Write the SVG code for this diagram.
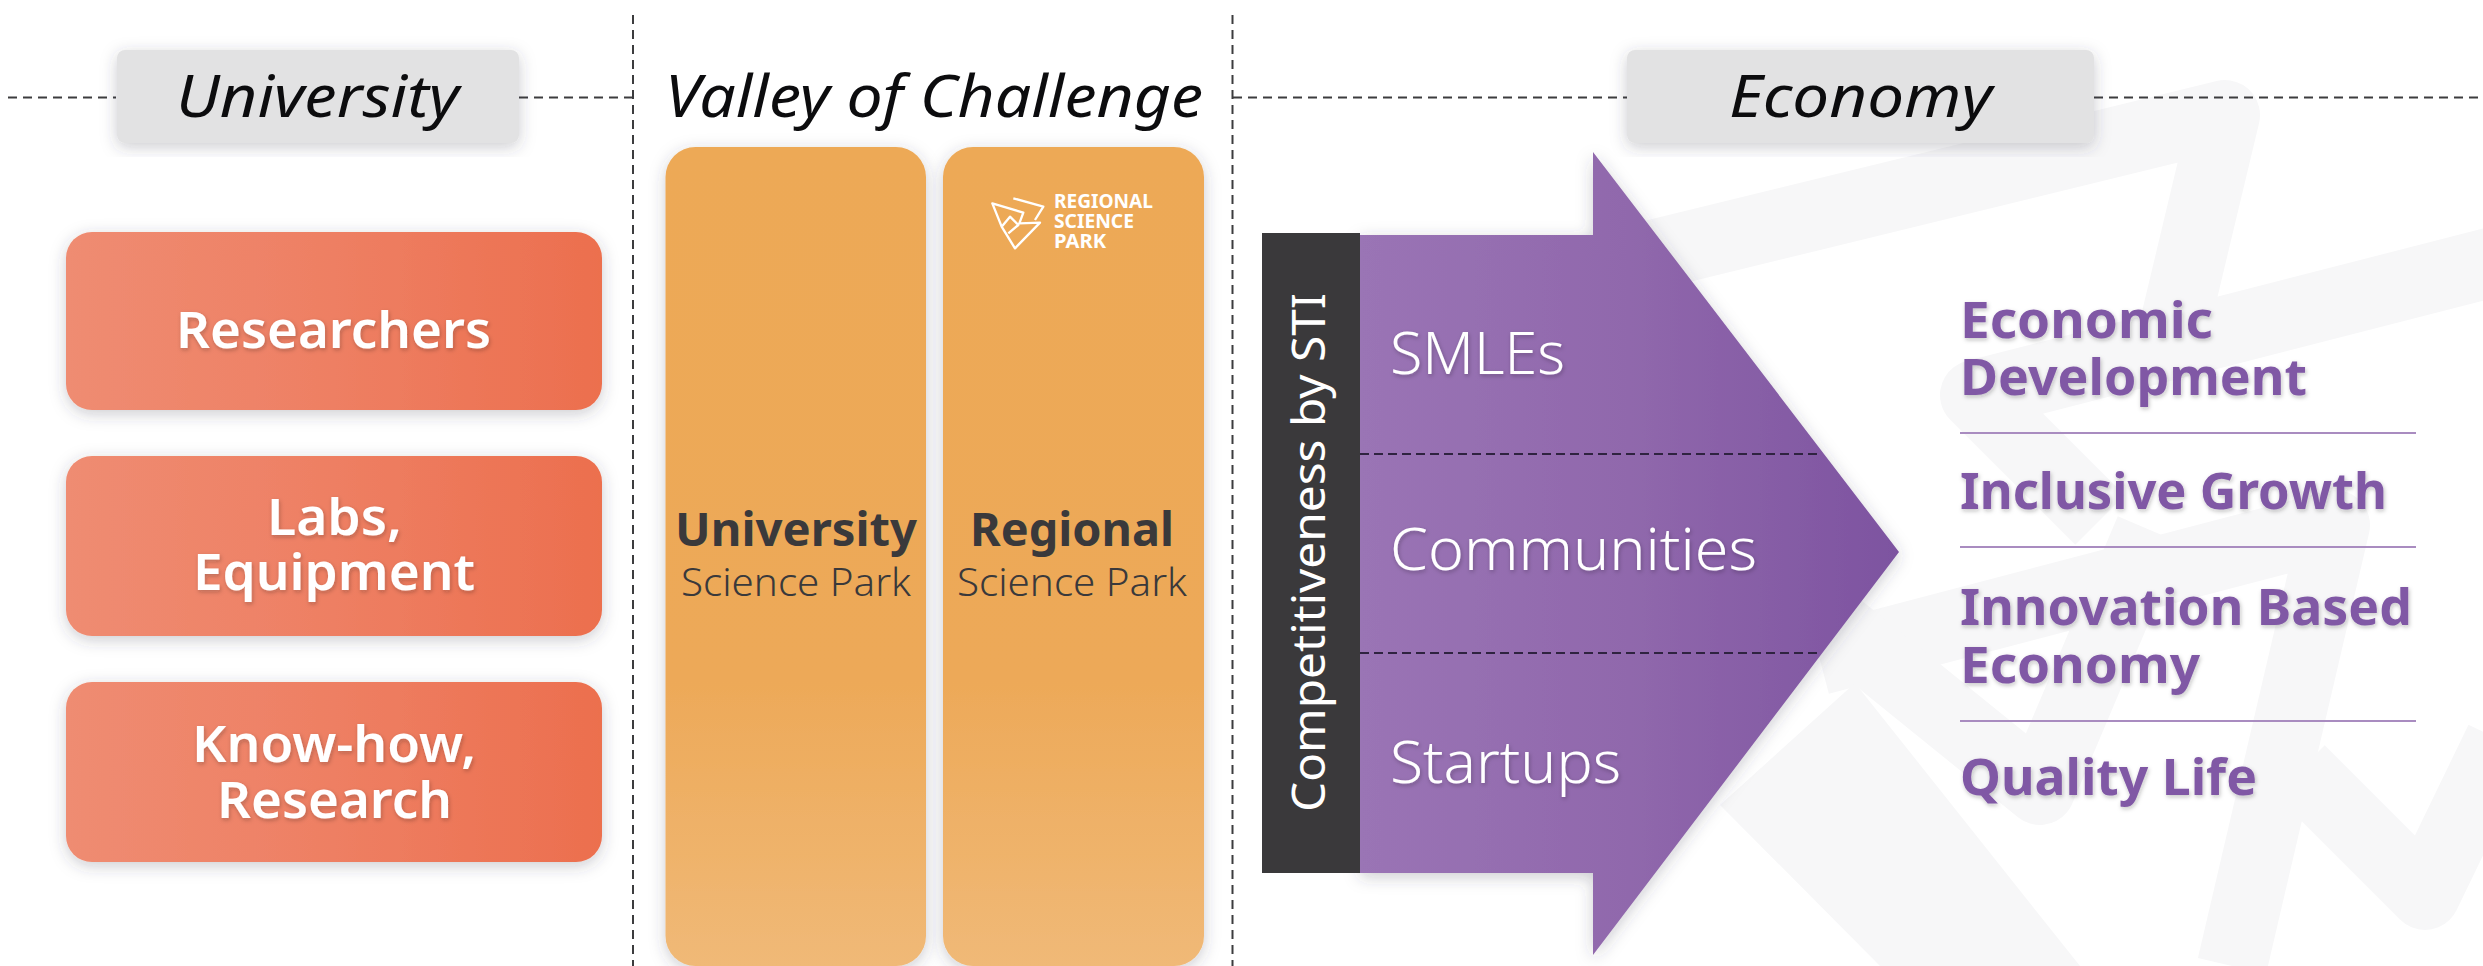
<svg xmlns="http://www.w3.org/2000/svg" width="2483" height="966" viewBox="0 0 2483 966">
<style>
text{font-family:"Noto Sans","Open Sans","DejaVu Sans",sans-serif}
.hd{font-size:58px;font-style:italic;font-weight:400;fill:#0c0c0e}
.sal{font-size:50px;font-weight:600;fill:#fff}
.ub{font-size:46px;font-weight:700;fill:#3a393b}
.us{font-size:38px;font-weight:300;fill:#3a393b}
.pu{font-size:58px;font-weight:300;fill:#fff}
.ri{font-size:50px;font-weight:700;fill:#8058a5}
.lg{font-size:19px;font-weight:700;fill:#fff}
.dash{fill:none;stroke:#3c3c3e;stroke-width:2;stroke-dasharray:9 6}
.dark{fill:none;stroke:#2f2340;stroke-width:2;stroke-dasharray:9 5}
.sep{stroke:#a98cc0;stroke-width:2}
.wm{fill:none;stroke:#f7f7f8;stroke-width:70;stroke-linejoin:round}
.h{fill:#e2e2e3;filter:url(#sh)}
.s{fill:url(#gs);filter:url(#sh)}
.o{fill:url(#go);filter:url(#sh)}
</style>
<defs>
<linearGradient id="gs" x1="0" x2="1" y1="0" y2="0"><stop offset="0" stop-color="#ef8c72"/><stop offset=".5" stop-color="#ee7f63"/><stop offset="1" stop-color="#ec6f4e"/></linearGradient>
<linearGradient id="go" x1="0" x2="0" y1="0" y2="1"><stop offset="0" stop-color="#eda957"/><stop offset=".65" stop-color="#eda958"/><stop offset="1" stop-color="#f0b977"/></linearGradient>
<linearGradient id="ga" gradientUnits="userSpaceOnUse" x1="1360" x2="1899" y1="0" y2="0"><stop offset="0" stop-color="#9a74b5"/><stop offset=".5" stop-color="#9068ac"/><stop offset="1" stop-color="#7d53a0"/></linearGradient>
<filter id="sh" x="-15%" y="-15%" width="130%" height="130%"><feDropShadow dx="0" dy="4" stdDeviation="8" flood-color="#3a4050" flood-opacity=".26"/></filter>
<filter id="ts" x="-10%" y="-20%" width="120%" height="150%"><feDropShadow dx="1" dy="2" stdDeviation="2" flood-color="#222" flood-opacity=".26"/></filter>
</defs>
<rect width="2483" height="966" fill="#fff"/>
<g id="watermark">
<path class="wm" d="M1640,258 L2225,115 L2170,345"/>
<path class="wm" d="M2540,250 L1975,395 L2100,520"/>
<path class="wm" d="M1820,660 L2335,525 L2232,966"/>
<path class="wm" d="M1830,620 L2040,790 L2150,530"/>
<path d="M1855,683 L2080,966 H1880 L1720,805 Z" fill="#f7f7f8"/>
<path class="wm" d="M2300,770 L2425,895 L2500,740"/>
</g>
<g id="connectors">
<path class="dash" d="M8,97.500H116M519,97.500H633M1233,97.500H1627M2094,97.500H2483"/>
<path class="dash" d="M633,15V966M1232.500,15V966"/>
</g>
<g id="university-header"><rect class="h" x="117" y="50" width="402" height="93" rx="8"/><text class="hd" x="176" y="117" textLength="283" lengthAdjust="spacingAndGlyphs">University</text></g>
<g id="valley-header"><text class="hd" x="665" y="117" textLength="538" lengthAdjust="spacingAndGlyphs">Valley of Challenge</text></g>
<g id="economy-header"><rect class="h" x="1627" y="50" width="467" height="93" rx="8"/><text class="hd" x="1729" y="117" textLength="263" lengthAdjust="spacingAndGlyphs">Economy</text></g>
<g id="researchers"><rect class="s" x="66" y="232" width="536" height="178" rx="26"/><text class="sal" filter="url(#ts)" x="176" y="348" textLength="315" lengthAdjust="spacingAndGlyphs">Researchers</text></g>
<g id="labs"><rect class="s" x="66" y="456" width="536" height="180" rx="26"/><text class="sal" filter="url(#ts)" x="267" y="535" textLength="135" lengthAdjust="spacingAndGlyphs">Labs,</text><text class="sal" filter="url(#ts)" x="193" y="590" textLength="282" lengthAdjust="spacingAndGlyphs">Equipment</text></g>
<g id="knowhow"><rect class="s" x="66" y="682" width="536" height="180" rx="26"/><text class="sal" filter="url(#ts)" x="192" y="762" textLength="284" lengthAdjust="spacingAndGlyphs">Know-how,</text><text class="sal" filter="url(#ts)" x="217" y="818" textLength="235" lengthAdjust="spacingAndGlyphs">Research</text></g>
<g id="university-park"><rect class="o" x="665.500" y="147" width="260.500" height="819" rx="30"/><text class="ub" x="675" y="546" textLength="242" lengthAdjust="spacingAndGlyphs">University</text><text class="us" x="681" y="596" textLength="230" lengthAdjust="spacingAndGlyphs">Science Park</text></g>
<g id="regional-park"><rect class="o" x="943" y="147" width="261" height="819" rx="30"/><text class="ub" x="970" y="546" textLength="204" lengthAdjust="spacingAndGlyphs">Regional</text><text class="us" x="957" y="596" textLength="230" lengthAdjust="spacingAndGlyphs">Science Park</text>
<g transform="translate(960,170) scale(.3333)"><path d="M97,100 L190,128 L178,160 L240,158 L165,235 L125,170 Z M160,85 L250,110 L225,150 M125,170 L150,140 L175,165 L145,190" fill="none" stroke="#fff" stroke-width="7" stroke-linejoin="round"/></g>
<text class="lg" x="1054" y="208" textLength="99" lengthAdjust="spacingAndGlyphs">REGIONAL</text><text class="lg" x="1054" y="228" textLength="80" lengthAdjust="spacingAndGlyphs">SCIENCE</text><text class="lg" x="1054" y="248" textLength="52" lengthAdjust="spacingAndGlyphs">PARK</text></g>
<g id="arrow">
<path d="M1360,235 H1593 V152 L1899,552 L1593,955 V873 H1360 Z" fill="url(#ga)" filter="url(#sh)"/>
<path class="dark" d="M1360,454H1820M1360,653H1822"/>
<text class="pu" filter="url(#ts)" x="1390" y="374" textLength="175" lengthAdjust="spacingAndGlyphs">SMLEs</text>
<text class="pu" filter="url(#ts)" x="1390" y="570" textLength="367" lengthAdjust="spacingAndGlyphs">Communities</text>
<text class="pu" filter="url(#ts)" x="1390" y="783" textLength="231" lengthAdjust="spacingAndGlyphs">Startups</text>
</g>
<g id="sti-bar"><rect x="1262" y="233" width="98" height="640" fill="#3a393b"/><text transform="translate(1325,812) rotate(-90)" font-size="45" font-weight="400" fill="#fff" textLength="519" lengthAdjust="spacingAndGlyphs">Competitiveness by STI</text></g>
<g id="outcomes">
<text class="ri" filter="url(#ts)" x="1960" y="338" textLength="253" lengthAdjust="spacingAndGlyphs">Economic</text>
<text class="ri" filter="url(#ts)" x="1960" y="395" textLength="347" lengthAdjust="spacingAndGlyphs">Development</text>
<line class="sep" x1="1960" y1="433" x2="2416" y2="433"/>
<text class="ri" filter="url(#ts)" x="1960" y="509" textLength="427" lengthAdjust="spacingAndGlyphs">Inclusive Growth</text>
<line class="sep" x1="1960" y1="547" x2="2416" y2="547"/>
<text class="ri" filter="url(#ts)" x="1960" y="625" textLength="452" lengthAdjust="spacingAndGlyphs">Innovation Based</text>
<text class="ri" filter="url(#ts)" x="1960" y="683" textLength="240" lengthAdjust="spacingAndGlyphs">Economy</text>
<line class="sep" x1="1960" y1="721" x2="2416" y2="721"/>
<text class="ri" filter="url(#ts)" x="1960" y="795" textLength="297" lengthAdjust="spacingAndGlyphs">Quality Life</text>
</g>
</svg>
